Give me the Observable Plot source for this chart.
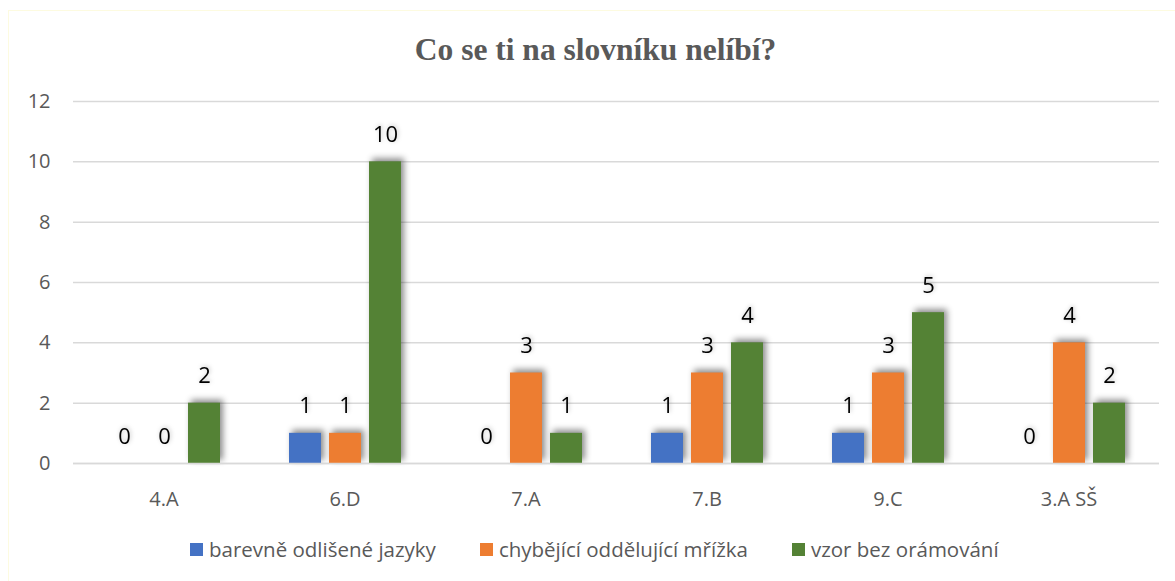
<!DOCTYPE html>
<html>
<head>
<meta charset="utf-8">
<script src="https://cdn.jsdelivr.net/npm/d3@7"></script>
<script src="https://cdn.jsdelivr.net/npm/@observablehq/plot@0.6"></script>
<style>
  html, body { margin: 0; padding: 0; background: #fff; }
  #wrap { position: relative; width: 1175px; height: 581px; overflow: hidden; }
  #frame { position: absolute; left: 8px; top: 10px; width: 1167px; height: 571px;
           border-left: 1px solid #fdfbe0; border-top: 1px solid #fdfbe0; box-sizing: border-box; }
  #title { position: absolute; left: 8px; width: 1175px; top: 29px; text-align: center;
           font-family: "Liberation Serif", "Times New Roman", serif; font-weight: bold;
           font-size: 31.5px; color: #595959; line-height: 42px; }
  #chart { position: absolute; left: 0; top: 80px; }
  #legend { position: absolute; left: 190px; top: 535px; display: flex; align-items: center;
            font-family: "Open Sans", sans-serif; font-size: 20.5px; color: #595959; white-space: nowrap; }
  #legend .item { display: flex; align-items: center; margin-right: 44px; }
  #legend .sw { width: 13px; height: 13px; margin-right: 6px; }
</style>
</head>
<body>
<div id="wrap">
  <div id="frame"></div>
  <div id="title">Co se ti na slovníku nelíbí?</div>
  <div id="chart"></div>
  <div id="legend"></div>
</div>
<script>
const groups = ["4.A", "6.D", "7.A", "7.B", "9.C", "3.A SŠ"];
const seriesNames = ["barevně odlišené jazyky", "chybějící oddělující mřížka", "vzor bez orámování"];
const barevneOdliseneJazyky = [0, 1, 0, 1, 1, 0];
const chybejiciOddelujiciMrizka = [0, 1, 3, 3, 3, 4];
const vzorBezOramovani = [2, 10, 1, 4, 5, 2];
const colors = ["#4472C4", "#ED7D31", "#548235"];
const yTicks = [0, 2, 4, 6, 8, 10, 12];

const seriesValues = [barevneOdliseneJazyky, chybejiciOddelujiciMrizka, vzorBezOramovani];
const data = [];
groups.forEach((g, gi) => {
  seriesNames.forEach((s, si) => {
    data.push({group: g, series: s, value: seriesValues[si][gi]});
  });
});

const plot = Plot.plot({
  width: 1175,
  height: 440,
  marginTop: 21,
  marginBottom: 57,
  marginLeft: 72,
  marginRight: 16,
  style: {fontFamily: "'Open Sans', sans-serif", fontSize: "20px", background: "transparent", overflow: "visible"},
  fx: {domain: groups, padding: 0, label: null},
  x: {domain: seriesNames, paddingInner: 0.2, paddingOuter: 0.8625, axis: null},
  y: {domain: [0, 12], ticks: yTicks, label: null},
  color: {domain: seriesNames, range: colors},
  marks: [
    Plot.gridY({ticks: yTicks, stroke: "#d9d9d9", strokeOpacity: 1, strokeWidth: 1.5}),
    Plot.axisY({ticks: yTicks, tickSize: 0, tickPadding: 23, fontSize: 20, fill: "#595959", label: null}),
    Plot.axisFx({anchor: "bottom", tickSize: 0, tickPadding: 28, fontSize: 20, fill: "#595959", label: null}),
    Plot.barY(data, {fx: "group", x: "series", y: "value", fill: "series"}),
    Plot.ruleY([0], {stroke: "#d9d9d9", strokeWidth: 1.5}),
    Plot.text(data, {fx: "group", x: "series", y: "value", text: d => String(d.value),
                     dy: -27, fontSize: 22, fill: "#000"})
  ]
});
document.getElementById("chart").appendChild(plot);

const svg = d3.select(plot);
svg.selectAll('g[aria-label="bar"]')
  .style("filter", "drop-shadow(3px -3px 3px rgba(0,0,0,0.45))");
svg.selectAll('g[aria-label="text"]')
  .style("filter", "drop-shadow(1px -1px 2px rgba(0,0,0,0.25))");

const legend = document.getElementById("legend");
seriesNames.forEach((s, i) => {
  const item = document.createElement("div");
  item.className = "item";
  const sw = document.createElement("div");
  sw.className = "sw";
  sw.style.background = colors[i];
  const t = document.createElement("span");
  t.textContent = s;
  item.appendChild(sw);
  item.appendChild(t);
  legend.appendChild(item);
});
</script>
</body>
</html>
